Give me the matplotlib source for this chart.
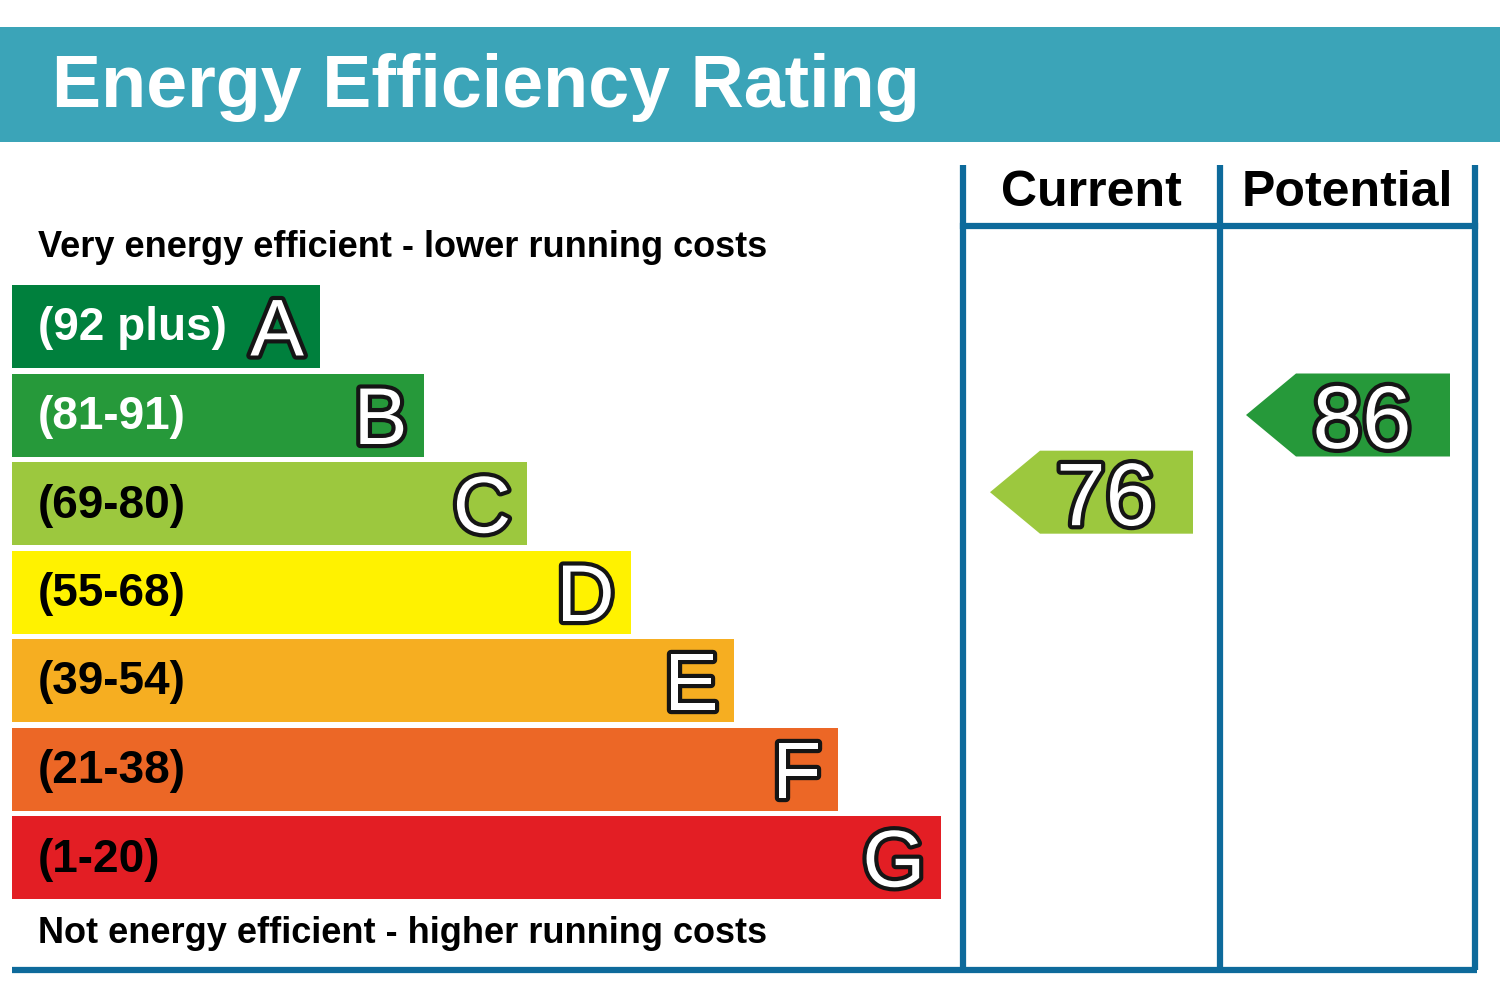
import matplotlib.pyplot as plt
import matplotlib.patheffects as pe
from matplotlib.patches import Polygon

# rating bands, top (best) to bottom
bands = ["A", "B", "C", "D", "E", "F", "G"]
range_labels = ["(92 plus)", "(81-91)", "(69-80)", "(55-68)", "(39-54)", "(21-38)", "(1-20)"]
band_low = [92, 81, 69, 55, 39, 21, 1]
band_high = [100, 91, 80, 68, 54, 38, 20]
band_colors = ["#00803d", "#26993a", "#9cc83e", "#fff200", "#f6ae21", "#ec6726", "#e31e24"]
label_colors = ["white", "white", "black", "black", "black", "black", "black"]

current = 76
potential = 86

title = "Energy Efficiency Rating"
top_note = "Very energy efficient - lower running costs"
bottom_note = "Not energy efficient - higher running costs"

plt.rcParams["font.family"] = ["Liberation Sans", "DejaVu Sans"]

fig = plt.figure(figsize=(15, 10), dpi=100)
ax = fig.add_axes([0, 0, 1, 1])
ax.set_xlim(0, 1500)
ax.set_ylim(1000, 0)
ax.axis("off")

blue = "#0d6a9b"
teal = "#3ba4b8"

# title banner
ax.add_patch(plt.Rectangle((0, 27), 1500, 115, color=teal, lw=0))
ax.text(52, 107, title, color="white", fontsize=53, fontweight="bold", va="baseline")

# bars
row_top0 = 285
row_step = 88.5
bar_h = 83
left = 12
tops = [row_top0 + i * row_step for i in range(len(bands))]
widths = [308 + i * 103.5 for i in range(len(bands))]
ax.barh([t + bar_h / 2 for t in tops], widths, height=bar_h, left=left,
        color=band_colors, edgecolor="none")

outline = [pe.withStroke(linewidth=6, foreground="#151515")]
for i, b in enumerate(bands):
    yc = tops[i] + bar_h / 2
    ax.text(38, yc + 14, range_labels[i], color=label_colors[i], fontsize=33,
            fontweight="bold", va="baseline")
    ax.text(left + widths[i] - 16, yc + 29, b, color="white", fontsize=58,
            ha="right", va="baseline", path_effects=outline)

ax.text(38, 257, top_note, fontsize=26, fontweight="bold", va="baseline")
ax.text(38, 943, bottom_note, fontsize=26, fontweight="bold", va="baseline")

# frame for current / potential columns
col_x = [963, 1220, 1475]
for x in col_x:
    ax.plot([x, x], [165, 970], color=blue, lw=4.5, solid_capstyle="butt")
ax.plot([col_x[0], col_x[2]], [226, 226], color=blue, lw=4.5)
ax.plot([12, col_x[2] + 2], [970, 970], color=blue, lw=4.5, solid_capstyle="butt")
ax.text((col_x[0] + col_x[1]) / 2, 206, "Current", fontsize=36, fontweight="bold",
        ha="center", va="baseline")
ax.text((col_x[1] + col_x[2]) / 2, 206, "Potential", fontsize=36, fontweight="bold",
        ha="center", va="baseline")


def band_of(v):
    for i in range(len(bands)):
        if band_low[i] <= v <= band_high[i]:
            return i
    return len(bands) - 1


def arrow(value, x_tip, x_right):
    i = band_of(value)
    frac = (band_high[i] - value) / (band_high[i] - band_low[i])
    yc = tops[i] + frac * bar_h
    h = bar_h
    x_body = x_tip + 50
    pts = [(x_tip, yc), (x_body, yc - h / 2), (x_right, yc - h / 2),
           (x_right, yc + h / 2), (x_body, yc + h / 2)]
    ax.add_patch(Polygon(pts, closed=True, color=band_colors[i], lw=0))
    ax.text((x_body + x_right) / 2 - 11, yc + 33, str(value), color="white",
            fontsize=64, ha="center", va="baseline", path_effects=outline)


arrow(current, 990, 1193)
arrow(potential, 1246, 1450)

fig.savefig("out.png", dpi=100)
